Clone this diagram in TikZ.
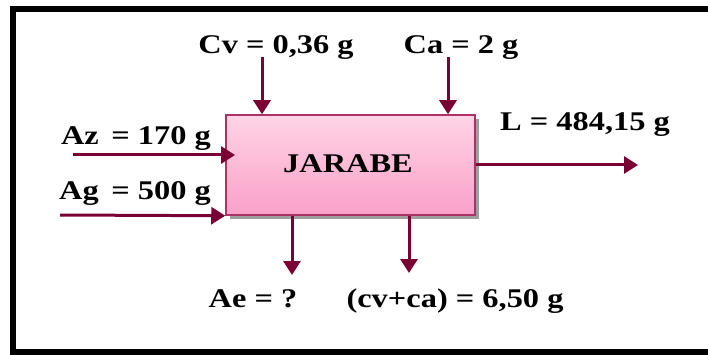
\documentclass[tikz,border=0pt]{standalone}
\usepackage{fontspec}
\setmainfont{Liberation Serif}[FakeStretch=1.2]
\usetikzlibrary{arrows.meta}
\definecolor{arrowc}{RGB}{122,0,52}
\definecolor{boxtop}{RGB}{255,212,230}
\definecolor{boxbot}{RGB}{250,160,200}
\definecolor{boxline}{RGB}{170,50,100}
\tikzset{
  flow/.style={draw=arrowc, line width=3pt, -{Triangle[width=17pt,length=14pt]}},
  lbl/.style={anchor=base, inner sep=0pt, font=\fontsize{27}{31}\selectfont\bfseries},
}
\begin{document}
\begin{tikzpicture}[x=1pt,y=-1pt]
\useasboundingbox (0,0) rectangle (708,355);
\clip (0,0) rectangle (708,355);
% frame
\draw[line width=6pt] (730,9) -- (13,9) -- (13,352) -- (730,352);
% shadow and box
\fill[gray!75] (230,119) rectangle (479,219);
\node[draw=boxline, line width=1.5pt, top color=boxtop, bottom color=boxbot,
      minimum width=249pt, minimum height=100pt, inner sep=0pt] (jar) at (350.5,165) {};
\node[lbl] (jartxt) at (348,173) {JARABE};
% labels
\node[lbl] (cv) at (276,54) {Cv = 0,36 g};
\node[lbl] (ca) at (461,54) {Ca = 2 g};
\node[lbl] (az) at (136,145) {Az\, = 170 g};
\node[lbl] (ag) at (135,200) {Ag\, = 500 g};
\node[lbl] (l) at (585,131) {L = 484,15 g};
\node[lbl] (ae) at (253,307) {Ae = ?};
\node[lbl] (cvca) at (455,307) {(cv+ca) = 6,50 g};
% coordinates
\coordinate (cvs) at (262,57);
\coordinate (cas) at (448,57);
\coordinate (azs) at (73,155);
\coordinate (aze) at (235,155);
\coordinate (ags) at (60,215);
\coordinate (le) at (638,165);
\coordinate (aee) at (292,275);
\coordinate (cvcae) at (409,273);
% arrows
\draw[flow] (cvs) -- (cvs |- jar.north);
\draw[flow] (cas) -- (cas |- jar.north);
\draw[flow] (azs) -- (aze);
\draw[flow] (ags) -- (jar.south west);
\draw[flow] (jar.east) -- (le);
\draw[flow] (aee |- jar.south) -- (aee);
\draw[flow] (cvcae |- jar.south) -- (cvcae);
\end{tikzpicture}
\end{document}
